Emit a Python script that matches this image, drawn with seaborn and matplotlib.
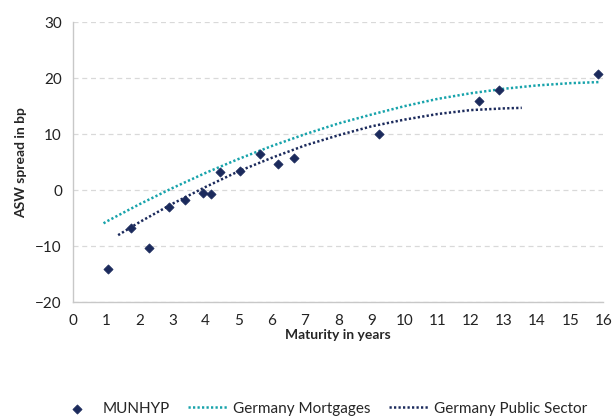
import numpy as np
import pandas as pd
import matplotlib
matplotlib.use("Agg")
import matplotlib.pyplot as plt
import seaborn as sns

# MUNHYP bonds: maturity (years) vs ASW spread (bp)
munhyp_maturity = [1.06, 1.76, 2.28, 2.88, 3.39, 3.92, 4.15, 4.43, 5.05, 5.65,
                   6.17, 6.68, 9.22, 12.24, 12.86, 15.85]
munhyp_spread = [-14.0, -6.7, -10.3, -3.0, -1.8, -0.4, -0.7, 3.2, 3.5, 6.5,
                 4.7, 5.8, 10.0, 15.9, 17.9, 20.8]

# Trend curves
mortgages_maturity = [0.92, 1, 2, 3, 4, 5, 6, 7, 8, 9, 10, 11, 12, 13, 14, 15, 15.9]
mortgages_spread = [-5.9, -5.6, -2.5, 0.4, 3.1, 5.6, 7.9, 10.0, 11.9, 13.5,
                    15.0, 16.3, 17.3, 18.1, 18.7, 19.1, 19.3]

public_maturity = [1.36, 2, 3, 4, 5, 6, 7, 8, 9, 10, 11, 12, 13, 13.54]
public_spread = [-8.0, -5.7, -2.4, 0.6, 3.4, 5.8, 8.0, 9.8, 11.4, 12.6,
                 13.6, 14.3, 14.6, 14.7]

x_ticks = list(range(0, 17))
y_ticks = [-20, -10, 0, 10, 20, 30]

navy = "#1b2a5c"
teal = "#17a3ab"
grey = "#c8c8c8"

sns.set_theme(style="white")
plt.rcParams["font.family"] = ["Lato", "DejaVu Sans"]

fig, ax = plt.subplots(figsize=(6.14, 4.16), dpi=100)
fig.subplots_adjust(left=0.119, right=0.9826, bottom=0.273, top=0.947)

sns.scatterplot(x=munhyp_maturity, y=munhyp_spread, marker="D", s=22,
                color=navy, edgecolor=navy, linewidth=0.5, ax=ax,
                label="MUNHYP", zorder=4)
sns.lineplot(x=mortgages_maturity, y=mortgages_spread, color=teal, lw=1.8,
             ax=ax, label="Germany Mortgages", zorder=3)
sns.lineplot(x=public_maturity, y=public_spread, color=navy, lw=1.8,
             ax=ax, label="Germany Public Sector", zorder=3)
for line in ax.lines:
    line.set_linestyle((0, (0.9, 0.9)))

ax.set_xlim(0, 16)
ax.set_ylim(-20, 30)
ax.set_xticks(x_ticks)
ax.set_yticks(y_ticks)
ax.yaxis.grid(True, color="#d9d9d9", linestyle=(0, (4, 3)), linewidth=0.9)
ax.set_axisbelow(True)

for side in ["top", "right"]:
    ax.spines[side].set_visible(False)
for side in ["left", "bottom"]:
    ax.spines[side].set_color(grey)
    ax.spines[side].set_linewidth(1.0)

ax.tick_params(axis="both", which="major", direction="out", length=4,
               width=1.0, color=grey, labelsize=11, labelcolor="#222222", pad=4)

ax.set_xlabel("Maturity in years", fontsize=10, fontweight="bold", labelpad=1)
ax.set_ylabel("ASW spread in bp", fontsize=10, fontweight="bold", labelpad=6)

leg = ax.legend(loc="center", bbox_to_anchor=(0.47, -0.379), ncol=3,
                frameon=False, fontsize=11, handlelength=2.6,
                columnspacing=1.2, handletextpad=0.35)

fig.savefig("out.png", dpi=100)
